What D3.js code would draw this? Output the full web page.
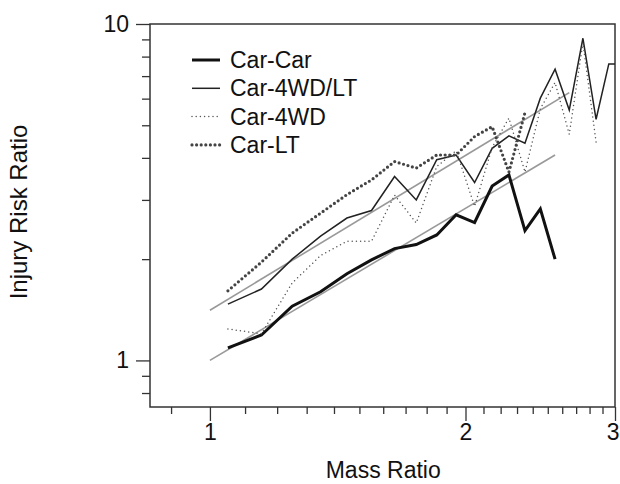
<!DOCTYPE html>
<html>
<head>
<meta charset="utf-8">
<script src="https://cdn.jsdelivr.net/npm/d3@7"></script>
<style>
  body { margin: 0; background: #fff; }
  text { font-family: "Liberation Sans", Arial, sans-serif; fill: #111; }
</style>
</head>
<body>
<svg id="chart" width="620" height="484"></svg>
<script>
// mass ratio bins (centres)
const massRatio = [1.05, 1.15, 1.25, 1.35, 1.45, 1.55, 1.65, 1.75, 1.85, 1.95,
                   2.05, 2.15, 2.25, 2.35, 2.45, 2.55, 2.65, 2.75, 2.85, 2.95, 3.05];

// injury risk ratio per series
const carCar   = [1.09, 1.19, 1.45, 1.60, 1.81, 1.99, 2.15, 2.21, 2.36, 2.71,
                  2.57, 3.30, 3.56, 2.43, 2.82, 2.00];
const car4wdLt = [1.47, 1.63, 2.00, 2.34, 2.65, 2.79, 3.52, 3.00, 3.95, 4.08,
                  3.38, 4.27, 4.65, 4.42, 6.02, 7.34, 5.55, 9.07, 5.21, 7.61, 7.61];
const car4wd   = [1.24, 1.20, 1.70, 2.05, 2.26, 2.26, 3.10, 2.56, 3.77, 4.20,
                  2.87, 4.30, 5.25, 3.63, 5.60, 6.70, 4.70, 8.80, 4.45];
const carLt    = [1.61, 1.96, 2.39, 2.74, 3.11, 3.44, 3.90, 3.73, 4.08, 4.08,
                  4.63, 4.95, 3.63, 5.45];

// fitted trend lines (end points)
const fitLowX  = [1, 2.55], fitLowY  = [1, 4.08];
const fitHighX = [1, 2.65], fitHighY = [1.41, 6.25];

// ticks
const xMajor = [1, 2, 3];
const xMinor = [0.9, 1.1, 1.2, 1.3, 1.4, 1.5, 1.6, 1.7, 1.8, 1.9,
                2.1, 2.2, 2.3, 2.4, 2.5, 2.6, 2.7, 2.8, 2.9];
const yMajor = [1, 10];
const yMinor = [0.8, 0.9, 2, 3, 4, 5, 6, 7, 8, 9];

const legendNames = ["Car-Car", "Car-4WD/LT", "Car-4WD", "Car-LT"];

let svg = d3.select("#chart"),
    margin = {top: 24, right: 5, bottom: 77, left: 150},
    width = svg.attr("width") - margin.left - margin.right,
    height = svg.attr("height") - margin.top - margin.bottom,
    g = svg.append("g").attr("transform", "translate(" + margin.left + "," + margin.top + ")");

let x = d3.scaleLog().domain([0.85, 3]).range([0, width]),
    y = d3.scaleLog().domain([0.727, 10]).range([height, 0]);

const fontSize = "23px";

// minor ticks
g.append("g")
    .attr("transform", "translate(0," + height + ")")
    .call(d3.axisBottom(x).tickValues(xMinor).tickSize(7).tickFormat(""))
    .call(a => a.select(".domain").remove());
g.append("g")
    .call(d3.axisLeft(y).tickValues(yMinor).tickSize(8).tickFormat(""))
    .call(a => a.select(".domain").remove());

// major ticks with labels
let xAxis = g.append("g")
    .attr("transform", "translate(0," + height + ")")
    .call(d3.axisBottom(x).tickValues(xMajor).tickSize(14).tickPadding(3).tickFormat(d3.format("d")))
    .call(a => a.select(".domain").remove());
xAxis.selectAll("text").style("font-size", fontSize).attr("fill", "#111")
    .attr("dx", d => d === 3 ? "-0.1em" : 0);
g.append("g")
    .call(d3.axisLeft(y).tickValues(yMajor).tickSize(14).tickPadding(7).tickFormat(d3.format("d")))
    .call(a => a.select(".domain").remove())
    .selectAll("text").style("font-size", fontSize).attr("fill", "#111");

g.selectAll(".tick line").attr("stroke", "#333").attr("stroke-width", 1.3);

// frame
g.append("rect")
    .attr("width", width)
    .attr("height", height)
    .attr("fill", "none")
    .attr("stroke", "#333")
    .attr("stroke-width", 1.5);

// axis titles
svg.append("text")
    .attr("x", margin.left + x(1.6))
    .attr("y", 478)
    .attr("text-anchor", "middle")
    .style("font-size", fontSize)
    .text("Mass Ratio");
svg.append("text")
    .attr("transform", "translate(19,212) rotate(-90)")
    .attr("text-anchor", "middle")
    .attr("dy", "0.35em")
    .style("font-size", "24px")
    .text("Injury Risk Ratio");

g.append("clipPath").attr("id", "plot-clip")
    .append("rect").attr("width", width).attr("height", height);

let plot = g.append("g").attr("clip-path", "url(#plot-clip)");

let line = d3.line()
    .x(d => x(d[0]))
    .y(d => y(d[1]));

// trend lines
[[fitLowX, fitLowY], [fitHighX, fitHighY]].forEach(f => {
    plot.append("path")
        .attr("d", line(d3.zip(f[0], f[1])))
        .attr("fill", "none")
        .attr("stroke", "#999")
        .attr("stroke-width", 1.6);
});

const styles = [
    {width: 3, color: "#111", dash: null, cap: "butt"},
    {width: 1.5, color: "#222", dash: null, cap: "butt"},
    {width: 1.5, color: "#555", dash: "0,4.2", cap: "round"},
    {width: 3.2, color: "#444", dash: "0,4.6", cap: "round"}
];

[carCar, car4wdLt, car4wd, carLt].forEach((vals, i) => {
    let s = styles[i];
    plot.append("path")
        .attr("d", line(vals.map((v, j) => [massRatio[j], v])))
        .attr("fill", "none")
        .attr("stroke", s.color)
        .attr("stroke-width", s.width)
        .attr("stroke-dasharray", s.dash)
        .attr("stroke-linecap", s.cap)
        .attr("stroke-linejoin", "miter");
});

// legend
let legend = g.selectAll(".legend")
    .data(legendNames)
    .enter().append("g")
    .attr("class", "legend")
    .attr("transform", (d, i) => "translate(42," + (36 + i * 28.3) + ")");

legend.append("line")
    .attr("x1", 0).attr("x2", 28)
    .attr("stroke", (d, i) => styles[i].color)
    .attr("stroke-width", (d, i) => styles[i].width)
    .attr("stroke-dasharray", (d, i) => styles[i].dash)
    .attr("stroke-linecap", (d, i) => styles[i].cap);

legend.append("text")
    .attr("x", 38)
    .attr("dy", "0.35em")
    .style("font-size", fontSize)
    .text(d => d);
</script>
</body>
</html>
